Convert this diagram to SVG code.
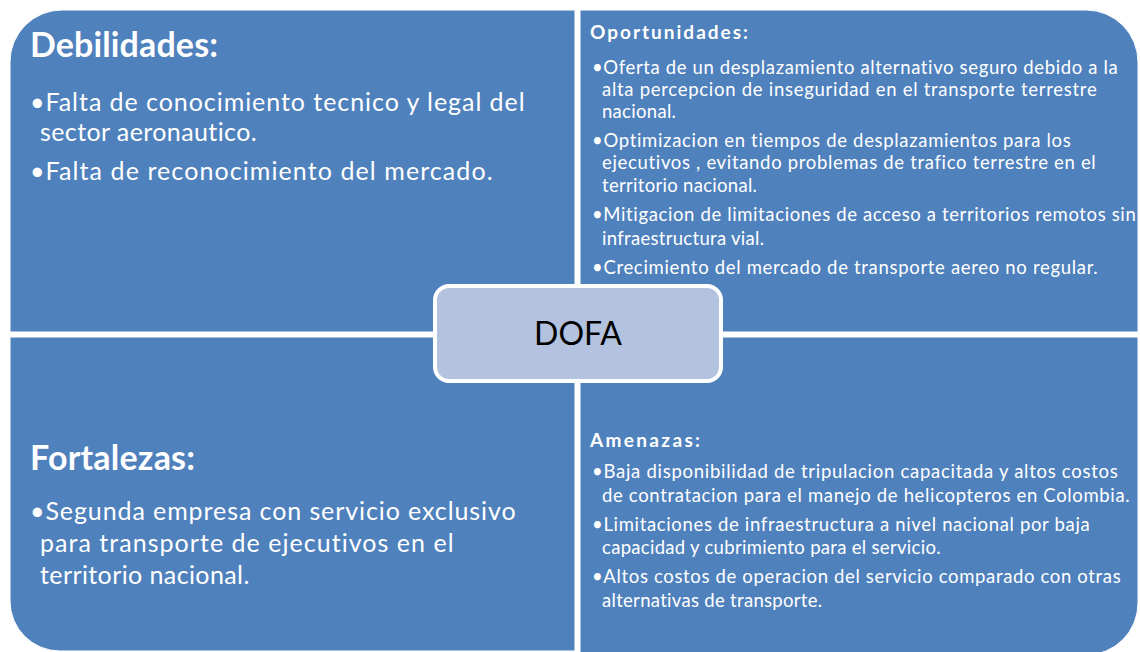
<svg xmlns="http://www.w3.org/2000/svg" width="1140" height="652" viewBox="0 0 1140 652">
<style>
.q{fill:#4f81bd;stroke:#ffffff;stroke-width:1}
.t{font-family:Lato,"Open Sans","Liberation Sans",sans-serif;fill:#ffffff}
.big{font-size:34px;font-weight:bold}
.bl{font-size:25px;letter-spacing:0.4px}
.sm{font-size:19px;font-weight:bold}
.bs{font-size:18.5px;letter-spacing:0.3px}
</style>
<rect width="1140" height="652" fill="#ffffff"/>
<g id="debilidades">
<path class="q" d="M10,62 A52,52 0 0 1 62,10 H575 V332 H10 Z"/>
<text class="t big" x="30" y="57" textLength="188">Debilidades:</text>
<text class="t bl" x="30" y="111" textLength="495">•Falta de conocimiento tecnico y legal del</text>
<text class="t bl" x="40" y="141">sector aeronautico.</text>
<text class="t bl" x="30" y="180" textLength="463">•Falta de reconocimiento del mercado.</text>
</g>
<g id="oportunidades">
<path class="q" d="M580,10 H1086 A52,52 0 0 1 1138,62 V332 H580 Z"/>
<text class="t sm" x="590" y="39" textLength="158">Oportunidades:</text>
<text class="t bs" x="592" y="74" textLength="526">•Oferta de un desplazamiento alternativo seguro debido a la</text>
<text class="t bs" x="602" y="96" textLength="495">alta percepcion de inseguridad en el transporte terrestre</text>
<text class="t bs" x="602" y="118">nacional.</text>
<text class="t bs" x="592" y="147" textLength="479">•Optimizacion en tiempos de desplazamientos para los</text>
<text class="t bs" x="602" y="169" textLength="494">ejecutivos , evitando problemas de trafico terrestre en el</text>
<text class="t bs" x="602" y="192">territorio nacional.</text>
<text class="t bs" x="592" y="221" textLength="544">•Mitigacion de limitaciones de acceso a territorios remotos sin</text>
<text class="t bs" x="602" y="245">infraestructura vial.</text>
<text class="t bs" x="592" y="274" textLength="506">•Crecimiento del mercado de transporte aereo no regular.</text>
</g>
<g id="fortalezas">
<path class="q" d="M10,337 H575 V651 H60 A50,50 0 0 1 10,601 Z"/>
<text class="t big" x="30" y="470" textLength="165">Fortalezas:</text>
<text class="t bl" x="30" y="520" textLength="486">•Segunda empresa con servicio exclusivo</text>
<text class="t bl" x="40" y="552" textLength="414">para transporte de ejecutivos en el</text>
<text class="t bl" x="40" y="584">territorio nacional.</text>
</g>
<g id="amenazas">
<path class="q" d="M580,337 H1138 V603 A52,52 0 0 1 1086,655 H580 Z"/>
<text class="t sm" x="590" y="447" textLength="110">Amenazas:</text>
<text class="t bs" x="592" y="478" textLength="526">•Baja disponibilidad de tripulacion capacitada y altos costos</text>
<text class="t bs" x="602" y="502" textLength="528">de contratacion para el manejo de helicopteros en Colombia.</text>
<text class="t bs" x="592" y="531" textLength="498">•Limitaciones de infraestructura a nivel nacional por baja</text>
<text class="t bs" x="602" y="554">capacidad y cubrimiento para el servicio.</text>
<text class="t bs" x="592" y="583" textLength="529">•Altos costos de operacion del servicio comparado con otras</text>
<text class="t bs" x="602" y="607">alternativas de transporte.</text>
</g>
<g id="dofa">
<rect x="435" y="286" width="286" height="95" rx="14" ry="14" fill="#b3c2de" stroke="#ffffff" stroke-width="4"/>
<text x="578" y="345" text-anchor="middle" font-family="Lato, Open Sans, Liberation Sans, sans-serif" font-size="32" fill="#000000">DOFA</text>
</g>
</svg>
